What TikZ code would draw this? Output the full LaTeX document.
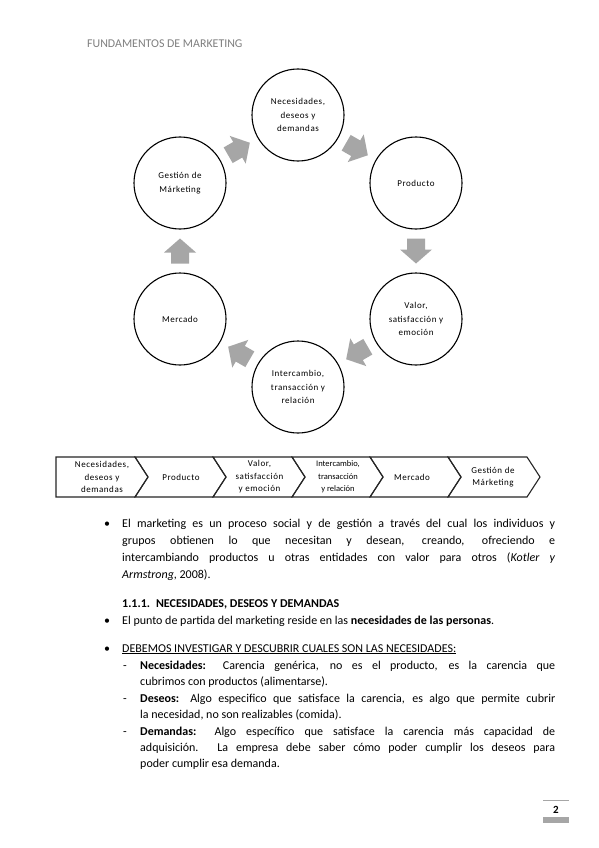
\documentclass[tikz,border=0pt]{standalone}
\usepackage{fontspec}
\setmainfont{Carlito}
\newfontfamily\spc[LetterSpace=6]{Carlito}
\usetikzlibrary{calc}
\definecolor{agrey}{HTML}{A6A6A6}
\definecolor{hgrey}{HTML}{7F7F7F}
\definecolor{cline}{HTML}{262626}
\begin{document}
\begin{tikzpicture}[x=1pt,y=-1pt,
 circ/.style={circle,draw=black,line width=1.1pt,minimum size=92pt,inner sep=0pt,align=center,font=\spc\fontsize{9}{13.5}\selectfont},
 blockarr/.pic={\fill[agrey] (-12.5,-9) -- (-1.5,-9) -- (-1.5,-16) -- (12.5,0) -- (-1.5,16) -- (-1.5,9) -- (-12.5,9) -- cycle;},
 chev/.style={draw=cline,line width=1.1pt,line join=miter},
 chevtxt/.style={align=center,font=\spc\fontsize{9}{12.5}\selectfont,inner sep=0pt},
 body/.style={anchor=base west,inner sep=0pt,font=\fontsize{12}{14}\selectfont},
 bmark/.style={anchor=base,inner sep=0pt,font=\fontsize{12}{14}\selectfont},
]
\fill[white] (0,0) rectangle (599,848);
\useasboundingbox (0,0) rectangle (599,848);

\node[anchor=base west,inner sep=0pt,text=hgrey,font=\fontsize{11.9}{13}\selectfont] (hdr) at (87,48) {FUNDAMENTOS DE MARKETING};

% cycle
\node[circ] (c1) at (298,115) {Necesidades,\\deseos y\\demandas};
\node[circ] (c2) at (416,183) {Producto};
\node[circ] (c3) at (416,319) {Valor,\\satisfacción y\\emoción};
\node[circ] (c4) at (298,387) {Intercambio,\\transacción y\\relación};
\node[circ] (c5) at (180,319) {Mercado};
\node[circ] (c6) at (180,183) {Gestión de\\Márketing};

\pic[rotate=30]  (a1) at ($(c6)!0.5!(c1)$) {blockarr};
\pic[rotate=-30] (a2) at ($(c1)!0.5!(c2)$) {blockarr};
\pic[rotate=-90] (a3) at ($(c2)!0.5!(c3)$) {blockarr};
\pic[rotate=210] (a4) at ($(c3)!0.5!(c4)$) {blockarr};
\pic[rotate=150] (a5) at ($(c4)!0.5!(c5)$) {blockarr};
\pic[rotate=90]  (a6) at ($(c5)!0.5!(c6)$) {blockarr};

% chevron row
\draw[chev] (56,457) -- (135,457) -- (148,477) -- (135,497) -- (56,497) -- cycle;
\draw[chev] (135,457) -- (213,457) -- (226,477) -- (213,497) -- (135,497) -- (148,477) -- cycle;
\draw[chev] (213,457) -- (292,457) -- (305,477) -- (292,497) -- (213,497) -- (226,477) -- cycle;
\draw[chev] (292,457) -- (370,457) -- (383,477) -- (370,497) -- (292,497) -- (305,477) -- cycle;
\draw[chev] (370,457) -- (448,457) -- (461,477) -- (448,497) -- (370,497) -- (383,477) -- cycle;
\draw[chev] (448,457) -- (527,457) -- (540,477) -- (527,497) -- (448,497) -- (461,477) -- cycle;
\node[chevtxt] (h1) at (102,477) {Necesidades,\\deseos y\\demandas};
\node[chevtxt] (h2) at (181,477) {Producto};
\node[chevtxt] (h3) at (259.5,477) {Valor,\\satisfacción\\y emoción};
\node[chevtxt,font=\fontsize{8.5}{12.5}\selectfont] (h4) at (338,477) {Intercambio,\\transacción\\y relación};
\node[chevtxt] (h5) at (412,477) {Mercado};
\node[chevtxt] (h6) at (493,477) {Gestión de\\Márketing};

% body text
\node[bmark] (b1) at (107,527) {•};
\node[body] (t1) at (122,527) {\makebox[433pt][s]{El marketing es un proceso social y de gestión a través del cual los individuos y}};
\node[body] (t2) at (122,544) {\makebox[433pt][s]{grupos obtienen lo que necesitan y desean, creando, ofreciendo e}};
\node[body] (t3) at (122,561) {\makebox[433pt][s]{intercambiando productos u otras entidades con valor para otros (\textit{Kotler y}}};
\node[body] (t4) at (122,578) {\textit{Armstrong}, 2008).};

\node[body] (hd) at (122,607) {\textbf{1.1.1.\hspace{6pt}NECESIDADES, DESEOS Y DEMANDAS}};
\node[bmark] (b2) at (107,624) {•};
\node[body] (p1) at (122,624) {El punto de partida del marketing reside en las \textbf{necesidades de las personas}.};
\node[bmark] (b3) at (107,652) {•};
\node[body] (p2) at (122,652) {\underline{DEBEMOS INVESTIGAR Y DESCUBRIR CUALES SON LAS NECESIDADES:}};

\node[bmark] (d1) at (125,669) {-};
\node[body] (l1) at (140,669) {\makebox[415pt][s]{\textbf{Necesidades:} Carencia genérica, no es el producto, es la carencia que}};
\node[body] (l2) at (140,685) {cubrimos con productos (alimentarse).};
\node[bmark] (d2) at (125,702) {-};
\node[body] (l3) at (140,702) {\makebox[415pt][s]{\textbf{Deseos:} Algo especifico que satisface la carencia, es algo que permite cubrir}};
\node[body] (l4) at (140,718) {la necesidad, no son realizables (comida).};
\node[bmark] (d3) at (125,735) {-};
\node[body] (l5) at (140,735) {\makebox[415pt][s]{\textbf{Demandas:} Algo específico que satisface la carencia más capacidad de}};
\node[body] (l6) at (140,751) {\makebox[415pt][s]{adquisición. La empresa debe saber cómo poder cumplir los deseos para}};
\node[body] (l7) at (140,767) {poder cumplir esa demanda.};

% page number
\draw[agrey,line width=1pt] (543,800) -- (569,800);
\node[font=\bfseries\fontsize{11}{13}\selectfont,inner sep=0pt] (pn) at (556,810) {2};
\fill[agrey] (543,817) rectangle (569,823);
\end{tikzpicture}
\end{document}
